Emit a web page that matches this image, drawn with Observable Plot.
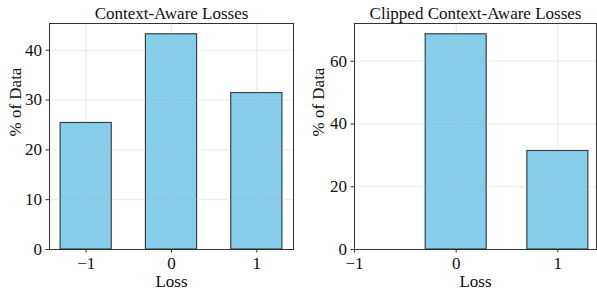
<!DOCTYPE html>
<html><head><meta charset="utf-8">
<script src="https://cdn.jsdelivr.net/npm/d3@7"></script>
<script src="https://cdn.jsdelivr.net/npm/@observablehq/plot@0.6"></script>
<style>
body{margin:0;background:#fff;}
#wrap{position:relative;width:597px;height:290px;overflow:hidden;background:#fff;}
.panel{position:absolute;top:0;}
</style></head><body><div id="wrap"></div>
<script>
const losses = [-1, 0, 1];
const contextAware = [25.4, 43.2, 31.4];
const clippedContextAware = [0, 68.6, 31.4];
const leftYTicks = [0, 10, 20, 30, 40];
const rightYTicks = [0, 20, 40, 60];
const xTicks = [-1, 0, 1];
const titles = ["Context-Aware Losses", "Clipped Context-Aware Losses"];
const xLabel = "Loss";
const yLabel = "% of Data";

const FONT = "'Liberation Serif', 'DejaVu Serif', serif";
const BAR_HALF = 0.3;
const FS = 17;

function makePanel({values, title, yTicks, xDomain, width, marginLeft, marginRight, labelDx}) {
  const data = losses.map((l, i) => ({loss: l, pct: values[i]}));
  const yMax = d3.max(values) * 1.05;
  return Plot.plot({
    width, height: 290,
    marginTop: 23, marginBottom: 41, marginLeft, marginRight,
    style: {fontFamily: FONT, fontSize: FS + "px", background: "white", color: "#111"},
    x: {domain: xDomain},
    y: {domain: [0, yMax]},
    marks: [
      Plot.rectY(data, {x1: d => d.loss - BAR_HALF, x2: d => d.loss + BAR_HALF, y1: 0, y2: "pct",
        fill: "#87CEEB", stroke: "#1a1a1a", strokeOpacity: 0.8, strokeWidth: 1.2, clip: true}),
      Plot.gridX(xTicks, {stroke: "#b0b0b0", strokeOpacity: 0.35, strokeWidth: 0.8}),
      Plot.gridY(yTicks, {stroke: "#b0b0b0", strokeOpacity: 0.35, strokeWidth: 0.8}),
      Plot.axisY(yTicks, {tickSize: 3.5, tickPadding: 4, label: null, fontSize: FS, stroke: "#333"}),
      Plot.axisX(xTicks, {tickSize: 3.5, tickPadding: 4, label: null, fontSize: FS, stroke: "#333"}),
      Plot.frame({stroke: "#333", strokeWidth: 1}),
      Plot.text([title], {frameAnchor: "top", lineAnchor: "middle", dy: -10, fontSize: FS, fill: "#111"}),
      Plot.text([xLabel], {frameAnchor: "bottom", lineAnchor: "middle", dy: 32, fontSize: FS, fill: "#111"}),
      Plot.text([yLabel], {frameAnchor: "left", lineAnchor: "middle", dx: labelDx, rotate: -90, fontSize: FS, fill: "#111"})
    ]
  });
}

const wrap = document.getElementById("wrap");
const left = makePanel({values: contextAware, title: titles[0], yTicks: leftYTicks,
  xDomain: [-1.43, 1.43], width: 300, marginLeft: 49, marginRight: 7, labelDx: -34});
left.classList.add("panel"); left.style.left = "0px";
wrap.appendChild(left);
const right = makePanel({values: clippedContextAware, title: titles[1], yTicks: rightYTicks,
  xDomain: [-1, 1.38], width: 297, marginLeft: 54, marginRight: 1, labelDx: -36});
right.classList.add("panel"); right.style.left = "300px";
wrap.appendChild(right);
</script></body></html>
